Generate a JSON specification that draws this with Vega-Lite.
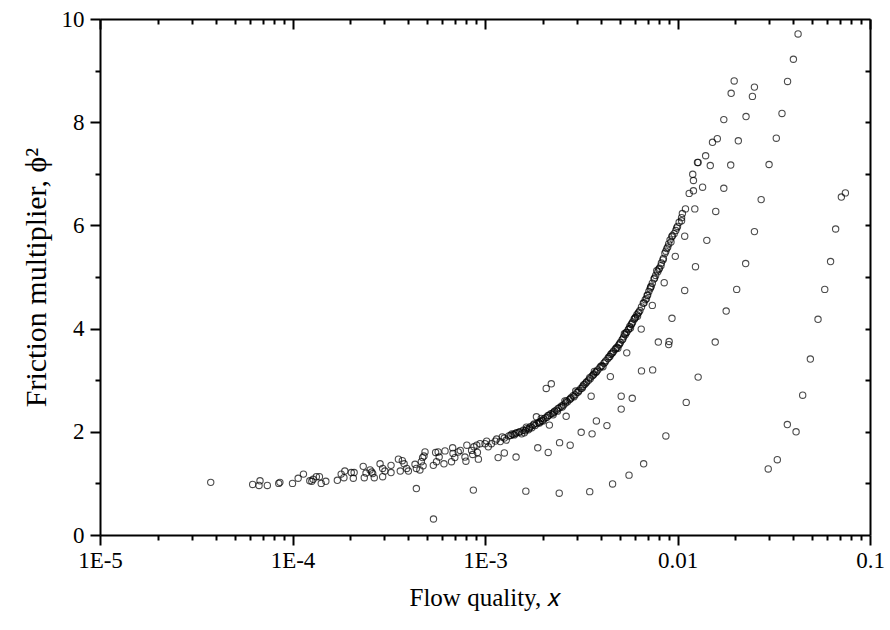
{
  "$schema": "https://vega.github.io/schema/vega-lite/v6.json",
  "width": 770,
  "height": 516,
  "autosize": {"type": "none"},
  "padding": {"left": 100, "top": 19, "right": 20, "bottom": 95},
  "background": "white",
  "config": {
    "view": {"stroke": null},
    "font": "Liberation Serif",
    "axis": {
      "grid": false,
      "labelFont": "Liberation Serif",
      "labelFontSize": 23,
      "labelColor": "black",
      "titleFont": "Liberation Serif",
      "titleFontSize": 24,
      "titleFontWeight": "normal",
      "titleColor": "black",
      "domainColor": "black",
      "domainWidth": 2,
      "tickColor": "black",
      "tickWidth": 2
    }
  },
  "data": {
    "values": [
      {"x": 3.76e-5, "y": 1.02}, {"x": 6.21e-5, "y": 0.98}, {"x": 6.78e-5, "y": 1.05}, {"x": 6.7e-5, "y": 0.96},
      {"x": 7.4e-5, "y": 0.96}, {"x": 8.48e-5, "y": 1.0}, {"x": 8.6e-5, "y": 1.02}, {"x": 1.0e-4, "y": 1.0},
      {"x": 1.07e-4, "y": 1.1}, {"x": 1.14e-4, "y": 1.18}, {"x": 1.23e-4, "y": 1.05}, {"x": 1.28e-4, "y": 1.08},
      {"x": 1.26e-4, "y": 1.04}, {"x": 1.33e-4, "y": 1.13}, {"x": 1.38e-4, "y": 1.13}, {"x": 1.41e-4, "y": 1.0},
      {"x": 1.49e-4, "y": 1.04}, {"x": 1.71e-4, "y": 1.06}, {"x": 1.79e-4, "y": 1.18}, {"x": 1.87e-4, "y": 1.24},
      {"x": 1.85e-4, "y": 1.11}, {"x": 2.02e-4, "y": 1.21}, {"x": 2.09e-4, "y": 1.21}, {"x": 2.07e-4, "y": 1.1},
      {"x": 2.33e-4, "y": 1.33}, {"x": 2.36e-4, "y": 1.11}, {"x": 2.41e-4, "y": 1.2}, {"x": 2.53e-4, "y": 1.26},
      {"x": 2.61e-4, "y": 1.19}, {"x": 2.66e-4, "y": 1.11}, {"x": 2.85e-4, "y": 1.38}, {"x": 2.58e-4, "y": 1.22},
      {"x": 2.94e-4, "y": 1.29}, {"x": 2.94e-4, "y": 1.13}, {"x": 3.02e-4, "y": 1.24}, {"x": 3.25e-4, "y": 1.35},
      {"x": 3.25e-4, "y": 1.21}, {"x": 3.55e-4, "y": 1.47}, {"x": 3.63e-4, "y": 1.24}, {"x": 3.72e-4, "y": 1.44},
      {"x": 3.8e-4, "y": 1.38}, {"x": 3.92e-4, "y": 1.29}, {"x": 4.0e-4, "y": 1.24}, {"x": 4.33e-4, "y": 1.37},
      {"x": 4.4e-4, "y": 1.29}, {"x": 4.59e-4, "y": 1.26}, {"x": 4.67e-4, "y": 1.42}, {"x": 4.74e-4, "y": 1.5},
      {"x": 4.82e-4, "y": 1.53}, {"x": 4.88e-4, "y": 1.61}, {"x": 4.77e-4, "y": 1.34}, {"x": 5.39e-4, "y": 1.35},
      {"x": 5.54e-4, "y": 1.6}, {"x": 5.71e-4, "y": 1.61}, {"x": 5.78e-4, "y": 1.51}, {"x": 5.6e-4, "y": 1.42},
      {"x": 6.12e-4, "y": 1.38}, {"x": 6.2e-4, "y": 1.63}, {"x": 6.7e-4, "y": 1.42}, {"x": 6.79e-4, "y": 1.69},
      {"x": 6.82e-4, "y": 1.58}, {"x": 6.97e-4, "y": 1.5}, {"x": 7.26e-4, "y": 1.61}, {"x": 7.44e-4, "y": 1.64},
      {"x": 7.87e-4, "y": 1.51}, {"x": 7.96e-4, "y": 1.43}, {"x": 8.05e-4, "y": 1.74}, {"x": 8.52e-4, "y": 1.64},
      {"x": 8.63e-4, "y": 1.56}, {"x": 8.76e-4, "y": 1.71}, {"x": 9.06e-4, "y": 1.74}, {"x": 9.13e-4, "y": 1.6},
      {"x": 9.24e-4, "y": 1.47}, {"x": 9.42e-4, "y": 1.77}, {"x": 1.0e-3, "y": 1.77}, {"x": 1.02e-3, "y": 1.82},
      {"x": 1.04e-3, "y": 1.71}, {"x": 1.08e-3, "y": 1.77}, {"x": 1.13e-3, "y": 1.82}, {"x": 1.15e-3, "y": 1.86},
      {"x": 1.2e-3, "y": 1.81}, {"x": 1.23e-3, "y": 1.9}, {"x": 1.26e-3, "y": 1.88}, {"x": 1.29e-3, "y": 1.84},
      {"x": 1.33e-3, "y": 1.92}, {"x": 1.36e-3, "y": 1.93}, {"x": 1.38e-3, "y": 1.96}, {"x": 1.4e-3, "y": 1.95},
      {"x": 1.42e-3, "y": 1.94}, {"x": 1.44e-3, "y": 1.97}, {"x": 1.46e-3, "y": 1.98}, {"x": 1.5e-3, "y": 1.99},
      {"x": 1.52e-3, "y": 2.0}, {"x": 1.55e-3, "y": 1.96}, {"x": 1.58e-3, "y": 2.03}, {"x": 1.6e-3, "y": 1.98},
      {"x": 1.62e-3, "y": 2.02}, {"x": 1.65e-3, "y": 2.06}, {"x": 1.68e-3, "y": 2.04}, {"x": 1.7e-3, "y": 2.07},
      {"x": 1.72e-3, "y": 2.1}, {"x": 1.75e-3, "y": 2.08}, {"x": 1.78e-3, "y": 2.13}, {"x": 1.8e-3, "y": 2.15},
      {"x": 1.82e-3, "y": 2.12}, {"x": 1.86e-3, "y": 2.16}, {"x": 1.9e-3, "y": 2.18}, {"x": 1.92e-3, "y": 2.17},
      {"x": 1.94e-3, "y": 2.2}, {"x": 1.98e-3, "y": 2.22}, {"x": 2.0e-3, "y": 2.21}, {"x": 2.02e-3, "y": 2.25},
      {"x": 2.06e-3, "y": 2.27}, {"x": 2.1e-3, "y": 2.28}, {"x": 2.12e-3, "y": 2.31}, {"x": 2.15e-3, "y": 2.32},
      {"x": 2.2e-3, "y": 2.35}, {"x": 2.25e-3, "y": 2.36}, {"x": 2.28e-3, "y": 2.38}, {"x": 2.3e-3, "y": 2.4},
      {"x": 2.35e-3, "y": 2.42}, {"x": 2.38e-3, "y": 2.4}, {"x": 2.4e-3, "y": 2.45}, {"x": 2.45e-3, "y": 2.47},
      {"x": 2.5e-3, "y": 2.5}, {"x": 2.52e-3, "y": 2.48}, {"x": 2.56e-3, "y": 2.52}, {"x": 2.62e-3, "y": 2.56},
      {"x": 2.65e-3, "y": 2.6}, {"x": 2.68e-3, "y": 2.58}, {"x": 2.74e-3, "y": 2.62}, {"x": 2.78e-3, "y": 2.64},
      {"x": 2.8e-3, "y": 2.66}, {"x": 2.87e-3, "y": 2.7}, {"x": 2.9e-3, "y": 2.68}, {"x": 2.94e-3, "y": 2.72},
      {"x": 3.0e-3, "y": 2.76}, {"x": 3.05e-3, "y": 2.77}, {"x": 3.08e-3, "y": 2.8}, {"x": 3.15e-3, "y": 2.84},
      {"x": 3.2e-3, "y": 2.85}, {"x": 3.22e-3, "y": 2.88}, {"x": 3.3e-3, "y": 2.92}, {"x": 3.35e-3, "y": 2.95},
      {"x": 3.38e-3, "y": 2.97}, {"x": 3.45e-3, "y": 3.0}, {"x": 3.5e-3, "y": 3.05}, {"x": 3.52e-3, "y": 3.03},
      {"x": 3.6e-3, "y": 3.08}, {"x": 3.65e-3, "y": 3.1}, {"x": 3.68e-3, "y": 3.12}, {"x": 3.76e-3, "y": 3.15},
      {"x": 3.8e-3, "y": 3.17}, {"x": 3.85e-3, "y": 3.2}, {"x": 3.95e-3, "y": 3.24}, {"x": 4.0e-3, "y": 3.27},
      {"x": 4.05e-3, "y": 3.28}, {"x": 4.15e-3, "y": 3.33}, {"x": 4.2e-3, "y": 3.35}, {"x": 4.25e-3, "y": 3.38},
      {"x": 4.35e-3, "y": 3.42}, {"x": 4.4e-3, "y": 3.45}, {"x": 4.45e-3, "y": 3.46}, {"x": 4.55e-3, "y": 3.52},
      {"x": 4.6e-3, "y": 3.53}, {"x": 4.65e-3, "y": 3.56}, {"x": 4.75e-3, "y": 3.6}, {"x": 4.8e-3, "y": 3.62},
      {"x": 4.85e-3, "y": 3.64}, {"x": 4.95e-3, "y": 3.68}, {"x": 5.0e-3, "y": 3.7}, {"x": 5.05e-3, "y": 3.73},
      {"x": 5.15e-3, "y": 3.78}, {"x": 5.2e-3, "y": 3.8}, {"x": 5.25e-3, "y": 3.84}, {"x": 5.35e-3, "y": 3.88},
      {"x": 5.4e-3, "y": 3.92}, {"x": 5.45e-3, "y": 3.93}, {"x": 5.55e-3, "y": 3.98}, {"x": 5.6e-3, "y": 4.0},
      {"x": 5.65e-3, "y": 4.04}, {"x": 5.75e-3, "y": 4.08}, {"x": 5.8e-3, "y": 4.1}, {"x": 5.85e-3, "y": 4.13},
      {"x": 5.95e-3, "y": 4.18}, {"x": 6.0e-3, "y": 4.2}, {"x": 6.05e-3, "y": 4.22}, {"x": 6.15e-3, "y": 4.27},
      {"x": 6.25e-3, "y": 4.3}, {"x": 6.3e-3, "y": 4.32}, {"x": 6.38e-3, "y": 4.35}, {"x": 6.5e-3, "y": 4.42},
      {"x": 6.64e-3, "y": 4.49}, {"x": 6.7e-3, "y": 4.5}, {"x": 6.8e-3, "y": 4.56}, {"x": 6.95e-3, "y": 4.64},
      {"x": 7.0e-3, "y": 4.65}, {"x": 7.1e-3, "y": 4.72}, {"x": 7.25e-3, "y": 4.8}, {"x": 7.3e-3, "y": 4.82},
      {"x": 7.4e-3, "y": 4.88}, {"x": 7.55e-3, "y": 4.96}, {"x": 7.6e-3, "y": 4.98}, {"x": 7.7e-3, "y": 5.03},
      {"x": 7.9e-3, "y": 5.1}, {"x": 8.0e-3, "y": 5.15}, {"x": 8.05e-3, "y": 5.17}, {"x": 8.25e-3, "y": 5.27},
      {"x": 8.4e-3, "y": 5.33}, {"x": 8.45e-3, "y": 5.36}, {"x": 8.6e-3, "y": 5.46}, {"x": 8.8e-3, "y": 5.55},
      {"x": 8.9e-3, "y": 5.58}, {"x": 9.0e-3, "y": 5.64}, {"x": 9.15e-3, "y": 5.72}, {"x": 9.35e-3, "y": 5.78},
      {"x": 9.4e-3, "y": 5.8}, {"x": 9.6e-3, "y": 5.84}, {"x": 9.8e-3, "y": 5.9}, {"x": 1.0e-2, "y": 5.98},
      {"x": 1.02e-2, "y": 6.06}, {"x": 1.05e-2, "y": 6.09}, {"x": 1.05e-2, "y": 6.15}, {"x": 1.06e-2, "y": 6.23},
      {"x": 1.1e-2, "y": 6.32}, {"x": 1.15e-2, "y": 6.62}, {"x": 1.21e-2, "y": 6.67}, {"x": 1.21e-2, "y": 6.87},
      {"x": 1.2e-2, "y": 6.99}, {"x": 1.27e-2, "y": 7.22}, {"x": 1.28e-2, "y": 7.22}, {"x": 1.4e-2, "y": 7.35},
      {"x": 1.52e-2, "y": 7.61}, {"x": 1.61e-2, "y": 7.68}, {"x": 1.74e-2, "y": 8.05}, {"x": 1.9e-2, "y": 8.56},
      {"x": 1.97e-2, "y": 8.8},
      {"x": 1.64e-3, "y": 2.09}, {"x": 1.96e-3, "y": 2.26}, {"x": 2.26e-3, "y": 2.33}, {"x": 2.6e-3, "y": 2.6},
      {"x": 2.96e-3, "y": 2.79}, {"x": 3.25e-3, "y": 2.91}, {"x": 3.7e-3, "y": 3.17}, {"x": 4.1e-3, "y": 3.26},
      {"x": 4.5e-3, "y": 3.5}, {"x": 4.9e-3, "y": 3.62}, {"x": 5.3e-3, "y": 3.9}, {"x": 5.7e-3, "y": 4.01},
      {"x": 6.2e-3, "y": 4.24}, {"x": 6.9e-3, "y": 4.58}, {"x": 7.2e-3, "y": 4.77}, {"x": 7.8e-3, "y": 5.12},
      {"x": 8.2e-3, "y": 5.22}, {"x": 8.7e-3, "y": 5.5}, {"x": 9.25e-3, "y": 5.68}, {"x": 9.9e-3, "y": 5.95},
      {"x": 4.4e-4, "y": 0.9}, {"x": 5.4e-4, "y": 0.31}, {"x": 8.7e-4, "y": 0.87}, {"x": 1.17e-3, "y": 1.5},
      {"x": 1.26e-3, "y": 1.59}, {"x": 1.45e-3, "y": 1.51}, {"x": 2.08e-3, "y": 2.84}, {"x": 2.21e-3, "y": 2.93},
      {"x": 1.85e-3, "y": 2.29}, {"x": 2.64e-3, "y": 2.3}, {"x": 2.16e-3, "y": 2.13}, {"x": 1.88e-3, "y": 1.69},
      {"x": 2.13e-3, "y": 1.6}, {"x": 2.44e-3, "y": 1.79}, {"x": 2.77e-3, "y": 1.74}, {"x": 3.16e-3, "y": 1.99},
      {"x": 3.6e-3, "y": 1.96}, {"x": 3.79e-3, "y": 2.21}, {"x": 4.3e-3, "y": 2.12}, {"x": 3.56e-3, "y": 2.69},
      {"x": 4.48e-3, "y": 3.07}, {"x": 5.1e-3, "y": 2.69}, {"x": 5.1e-3, "y": 2.44}, {"x": 5.45e-3, "y": 3.53},
      {"x": 5.82e-3, "y": 2.65}, {"x": 1.63e-3, "y": 0.85}, {"x": 2.43e-3, "y": 0.81}, {"x": 3.5e-3, "y": 0.84},
      {"x": 4.6e-3, "y": 0.99}, {"x": 5.6e-3, "y": 1.16}, {"x": 6.48e-3, "y": 3.99}, {"x": 6.5e-3, "y": 3.18},
      {"x": 7.43e-3, "y": 3.2}, {"x": 7.95e-3, "y": 3.74}, {"x": 9.0e-3, "y": 3.69}, {"x": 9.05e-3, "y": 3.75},
      {"x": 9.36e-3, "y": 4.2}, {"x": 8.53e-3, "y": 4.89}, {"x": 9.74e-3, "y": 5.4}, {"x": 1.09e-2, "y": 5.79},
      {"x": 1.09e-2, "y": 4.74}, {"x": 1.24e-2, "y": 5.2}, {"x": 1.23e-2, "y": 6.32}, {"x": 1.35e-2, "y": 6.74},
      {"x": 1.48e-2, "y": 7.16}, {"x": 1.42e-2, "y": 5.71}, {"x": 1.58e-2, "y": 6.27}, {"x": 1.57e-2, "y": 3.74},
      {"x": 1.28e-2, "y": 3.06}, {"x": 1.11e-2, "y": 2.57}, {"x": 8.7e-3, "y": 1.92}, {"x": 6.67e-3, "y": 1.38},
      {"x": 7.4e-3, "y": 4.45},
      {"x": 0.0423, "y": 9.71}, {"x": 0.04, "y": 9.22}, {"x": 0.0373, "y": 8.79}, {"x": 0.0349, "y": 8.17},
      {"x": 0.0326, "y": 7.69}, {"x": 0.0299, "y": 7.18}, {"x": 0.0272, "y": 6.5}, {"x": 0.0251, "y": 5.88},
      {"x": 0.0226, "y": 5.26}, {"x": 0.0251, "y": 8.68}, {"x": 0.0245, "y": 8.5}, {"x": 0.0227, "y": 8.11},
      {"x": 0.0207, "y": 7.64}, {"x": 0.0189, "y": 7.17}, {"x": 0.0174, "y": 6.72}, {"x": 0.0663, "y": 5.93},
      {"x": 0.0624, "y": 5.3}, {"x": 0.071, "y": 6.55}, {"x": 0.0745, "y": 6.63}, {"x": 0.0203, "y": 4.76},
      {"x": 0.0179, "y": 4.34}, {"x": 0.0582, "y": 4.76}, {"x": 0.0537, "y": 4.18}, {"x": 0.049, "y": 3.41},
      {"x": 0.0447, "y": 2.71}, {"x": 0.0372, "y": 2.14}, {"x": 0.0413, "y": 2.0}, {"x": 0.033, "y": 1.46},
      {"x": 0.0296, "y": 1.28}
    ]
  },
  "resolve": {"axis": {"x": "independent", "y": "independent"}},
  "layer": [
    {
      "mark": {"type": "point", "filled": false, "color": "black", "strokeWidth": 1.1, "size": 40},
      "encoding": {
        "x": {
          "field": "x", "type": "quantitative",
          "scale": {"type": "log", "domain": [0.00001, 0.1], "nice": false},
          "axis": {
            "orient": "bottom",
            "values": [0.00001, 0.0001, 0.001, 0.01, 0.1],
            "labelExpr": "datum.value < 2e-5 ? '1E-5' : datum.value < 2e-4 ? '1E-4' : datum.value < 2e-3 ? '1E-3' : datum.value < 0.02 ? '0.01' : '0.1'",
            "tickSize": 10,
            "labelPadding": 4,
            "labelFlush": false,
            "labelFont": "Liberation Serif",
            "labelFontSize": 23,
            "title": "Flow quality, 𝑥",
            "titleFont": "Liberation Serif",
            "titleFontSize": 25,
            "titleFontWeight": "normal",
            "titlePadding": 13
          }
        },
        "y": {
          "field": "y", "type": "quantitative",
          "scale": {"domain": [0, 10], "nice": false, "zero": true},
          "axis": {
            "orient": "left",
            "values": [0, 2, 4, 6, 8, 10],
            "format": "d",
            "tickSize": 10,
            "labelPadding": 6,
            "labelFlush": false,
            "labelFont": "Liberation Serif",
            "labelFontSize": 23,
            "title": "Friction multiplier, ϕ²",
            "titleFont": "Liberation Serif",
            "titleFontSize": 30,
            "titleFontWeight": "normal",
            "titlePadding": 10
          }
        }
      }
    },
    {
      "mark": {"type": "point", "opacity": 0},
      "encoding": {
        "x": {
          "field": "x", "type": "quantitative",
          "scale": {"type": "log", "domain": [0.00001, 0.1], "nice": false},
          "axis": {
            "orient": "bottom", "domain": false, "labels": false, "title": null, "tickSize": 5,
            "values": [0.00002, 0.00003, 0.00004, 0.00005, 0.00006, 0.00007, 0.00008, 0.00009,
                       0.0002, 0.0003, 0.0004, 0.0005, 0.0006, 0.0007, 0.0008, 0.0009,
                       0.002, 0.003, 0.004, 0.005, 0.006, 0.007, 0.008, 0.009,
                       0.02, 0.03, 0.04, 0.05, 0.06, 0.07, 0.08, 0.09]
          }
        },
        "y": {
          "field": "y", "type": "quantitative",
          "scale": {"domain": [0, 10], "nice": false},
          "axis": {"orient": "left", "domain": false, "labels": false, "title": null, "tickSize": 5, "values": [1, 3, 5, 7, 9]}
        }
      }
    },
    {
      "mark": {"type": "point", "opacity": 0},
      "encoding": {
        "x": {
          "field": "x", "type": "quantitative",
          "scale": {"type": "log", "domain": [0.00001, 0.1], "nice": false},
          "axis": {"orient": "top", "labels": false, "title": null, "tickSize": -10, "values": [0.00001, 0.0001, 0.001, 0.01, 0.1]}
        },
        "y": {
          "field": "y", "type": "quantitative",
          "scale": {"domain": [0, 10], "nice": false},
          "axis": {"orient": "right", "labels": false, "title": null, "tickSize": -5, "values": [1, 2, 3, 4, 5, 6, 7, 8, 9]}
        }
      }
    },
    {
      "mark": {"type": "point", "opacity": 0},
      "encoding": {
        "x": {
          "field": "x", "type": "quantitative",
          "scale": {"type": "log", "domain": [0.00001, 0.1], "nice": false},
          "axis": {
            "orient": "top", "domain": false, "labels": false, "title": null, "tickSize": -5,
            "values": [0.00002, 0.00003, 0.00004, 0.00005, 0.00006, 0.00007, 0.00008, 0.00009,
                       0.0002, 0.0003, 0.0004, 0.0005, 0.0006, 0.0007, 0.0008, 0.0009,
                       0.002, 0.003, 0.004, 0.005, 0.006, 0.007, 0.008, 0.009,
                       0.02, 0.03, 0.04, 0.05, 0.06, 0.07, 0.08, 0.09]
          }
        },
        "y": {
          "field": "y", "type": "quantitative",
          "scale": {"domain": [0, 10], "nice": false},
          "axis": null
        }
      }
    }
  ]
}
